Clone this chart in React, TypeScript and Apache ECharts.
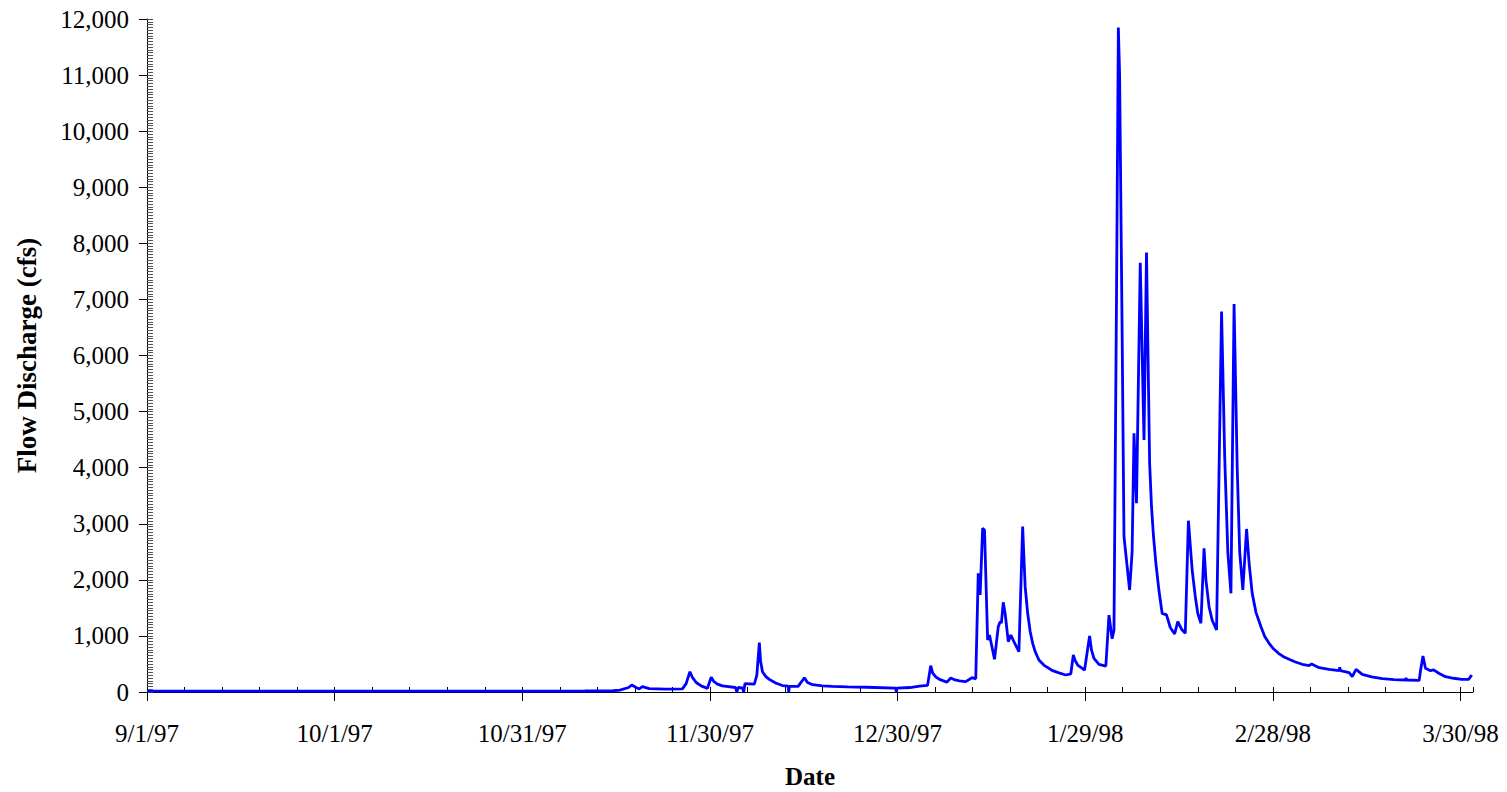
import React, { useEffect, useRef } from "react";
import * as echarts from "echarts";

// Days since 9/1/97 (fractional) and flow discharge in cfs
const dayOffsets: number[] = [
  0, 20, 45, 70, 74.5, 75.6, 77.0, 77.5, 78.2, 78.7, 79.2, 80.3, 83.0, 85.6, 86.2, 86.8, 87.2, 87.8, 88.6, 89.6,
  90.2, 90.6, 91.2, 92.0, 94.1, 94.3, 94.5, 95.2, 95.4, 95.6, 97.1, 97.5, 97.9, 98.1, 98.4, 98.9, 99.5, 100.5,
  101.6, 102.5, 102.6, 102.7, 104.1, 105.1, 105.6, 106.4, 108.0, 109.6, 112.0, 115.0, 119.7, 119.8, 119.9, 122.0,
  123.5, 124.8, 125.3, 125.6, 126.1, 126.7, 127.9, 128.5, 129.2, 129.9, 130.9, 131.9, 132.5, 132.9, 133.2, 133.6,
  133.9, 134.4, 134.7, 135.5, 136.1, 136.4, 136.6, 136.9, 137.2, 137.7, 138.1, 138.6, 139.4, 140.0, 140.2, 140.4,
  140.8, 141.2, 141.6, 142.0, 142.6, 143.5, 144.8, 145.8, 146.9, 147.7, 148.1, 148.4, 148.8, 149.9, 150.7, 151.0,
  151.4, 152.2, 153.3, 153.8, 154.3, 154.6, 155.0, 155.3, 155.5, 155.9, 156.2, 156.4, 157.1, 157.5, 157.8, 158.2,
  158.8, 159.4, 159.8, 160.3, 160.6, 160.9, 161.3, 161.8, 162.3, 163.0, 163.6, 164.3, 164.8, 165.4, 166.0, 166.5,
  167.1, 167.6, 168.0, 168.5, 169.0, 169.3, 169.8, 170.3, 171.0, 171.8, 172.3, 172.8, 173.3, 173.8, 174.3, 174.7,
  175.2, 175.8, 176.2, 176.7, 177.3, 178.1, 178.7, 179.4, 180.1, 180.9, 181.7, 182.6, 183.6, 184.7, 185.8, 186.2,
  187.4, 189.0, 190.6, 190.7, 190.8, 192.2, 192.7, 193.3, 194.3, 195.8, 197.5, 199.4, 201.2, 201.3, 201.4, 203.4,
  203.6, 204.0, 204.4, 205.2, 205.7, 206.6, 207.6, 208.9, 210.2, 211.3, 211.8,
];

const flowCfs: number[] = [
  15, 15, 15, 18, 22, 35, 80, 125, 80, 55, 95, 60, 50, 55, 150, 362, 260, 170, 110, 65,
  262, 190, 140, 110, 80, 0, 80, 75, 0, 150, 140, 300, 880, 550, 362, 280, 225, 160,
  115, 105, 0, 100, 100, 255, 170, 130, 110, 100, 92, 85, 70, 0, 70, 80,
  105, 120, 470, 340, 270, 225, 175, 250, 215, 200, 185, 255, 235, 2117, 1730, 2920,
  2890, 927, 1016, 583, 1165, 1254, 1230, 1600, 1400, 897, 1016, 897, 719, 2948, 2400, 1878,
  1403, 1080, 868, 720, 570, 470, 380, 340, 303, 325, 660, 560, 481, 392, 1000, 750,
  600, 494, 463, 1370, 950, 1100, 7000, 11850, 11000, 6455, 2770, 2562, 1819, 2500, 4613, 3365,
  7655, 4494, 7834, 4078, 3304, 2800, 2295, 1800, 1403, 1375, 1150, 1034, 1254, 1120, 1047, 3055,
  2175, 1700, 1400, 1225, 2562, 2000, 1521, 1280, 1106, 6782, 4200, 2500, 1760, 6918, 4000, 2500,
  1819, 2907, 2300, 1760, 1420, 1165, 990, 868, 770, 690, 630, 583, 535, 494, 470, 500,
  434, 405, 380, 440, 380, 344, 273, 404, 315, 270, 237, 222, 214, 250, 214, 208,
  374, 642, 422, 380, 395, 330, 273, 245, 226, 226, 303,
];

const xTickLabels: string[] = ["9/1/97", "10/1/97", "10/31/97", "11/30/97", "12/30/97", "1/29/98", "2/28/98", "3/30/98"];

const X_MAX = 212;
const Y_MAX = 12000;
const FONT = "'Liberation Serif', 'Times New Roman', serif";

export default function App() {
  const ref = useRef<HTMLDivElement>(null);

  useEffect(() => {
    if (!ref.current) return;
    const chart = echarts.init(ref.current, null, { renderer: "svg" });
    const seriesData = dayOffsets.map((d, i) => [d, flowCfs[i]]);

    chart.setOption({
      animation: false,
      backgroundColor: "#ffffff",
      grid: { left: 147, right: 34, top: 19, bottom: 100, containLabel: false, outerBoundsMode: "none" },
      xAxis: [
        {
          type: "value",
          min: 0,
          max: X_MAX,
          interval: 30,
          position: "bottom",
          name: "Date",
          nameLocation: "middle",
          nameGap: 71,
          nameTextStyle: { fontFamily: FONT, fontSize: 25, fontWeight: "bold", color: "#000", lineHeight: 26 },
          axisLine: { show: true, lineStyle: { color: "#000", width: 1 } },
          axisTick: { show: true, inside: false, length: 9, lineStyle: { color: "#000", width: 1 } },
          axisLabel: {
            margin: 29,
            fontFamily: FONT,
            fontSize: 25,
            color: "#000",
            formatter: (v: number) => {
              const idx = Math.round(v / 30);
              return Math.abs(v - idx * 30) < 1e-6 ? xTickLabels[idx] ?? "" : "";
            },
            showMaxLabel: false,
          },
          splitLine: { show: false },
        },
        {
          type: "value",
          min: 0,
          max: X_MAX,
          interval: 6,
          position: "bottom",
          axisLine: { show: false },
          axisTick: { show: true, inside: true, length: 5, lineStyle: { color: "#000", width: 1 } },
          axisLabel: { show: false },
          splitLine: { show: false },
        },
      ],
      yAxis: [
        {
          type: "value",
          min: 0,
          max: Y_MAX,
          interval: 1000,
          position: "left",
          name: "Flow Discharge (cfs)",
          nameLocation: "middle",
          nameGap: 107,
          nameTextStyle: { fontFamily: FONT, fontSize: 27, fontWeight: "bold", color: "#000" },
          axisLine: { show: true, lineStyle: { color: "#000", width: 1 } },
          axisTick: { show: true, inside: false, length: 8, lineStyle: { color: "#000", width: 1 } },
          axisLabel: {
            margin: 18,
            fontFamily: FONT,
            fontSize: 25,
            color: "#000",
            formatter: (v: number) => v.toLocaleString("en-US"),
          },
          splitLine: { show: false },
        },
        {
          type: "value",
          min: 0,
          max: Y_MAX,
          interval: 50,
          position: "left",
          axisLine: { show: false },
          axisTick: { show: true, inside: true, length: 6, lineStyle: { color: "#555", width: 1 } },
          axisLabel: { show: false },
          splitLine: { show: false },
        },
      ],
      series: [
        {
          type: "line",
          xAxisIndex: 0,
          yAxisIndex: 0,
          data: seriesData,
          showSymbol: false,
          symbol: "none",
          lineStyle: { color: "#0000FF", width: 2.8 },
          z: 3,
        },
      ],
    });

    return () => chart.dispose();
  }, []);

  return (
    <div
      ref={ref}
      style={{ position: "fixed", left: 0, top: 0, width: 1507, height: 792, background: "#fff" }}
    />
  );
}
